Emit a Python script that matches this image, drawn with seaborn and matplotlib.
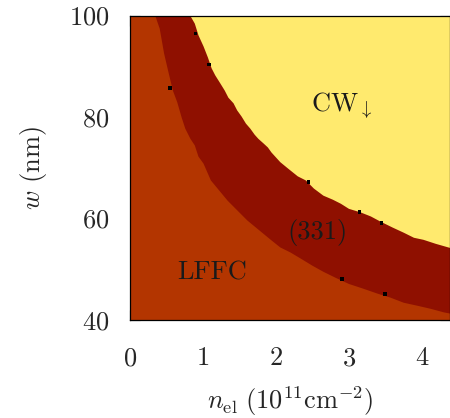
"""
Phase diagram w vs n_el: LFFC / (331) / CW_down regions.
"""

import numpy as np
import matplotlib
matplotlib.use('Agg')
import matplotlib.pyplot as plt
import seaborn as sns

# Boundary LFFC | (331) (n_el, w)
low_n = [0.0, 0.34, 0.40, 0.46, 0.52, 0.58, 0.64, 0.70, 0.75, 0.82, 0.88,
         0.93, 1.00, 1.10, 1.33, 1.60, 1.92, 2.05, 2.19, 2.33, 2.49, 2.64,
         2.81, 2.99, 3.18, 3.38, 3.56, 3.74, 3.93, 4.11, 4.29, 4.40]
low_w = [100.0, 100.0, 97.5, 92.6, 88.9, 85.3, 83.0, 80.0, 77.8, 75.8, 74.5,
         72.3, 70.9, 67.6, 63.6, 59.7, 55.9, 54.4, 53.4, 52.2, 50.8, 49.6,
         48.4, 47.2, 46.3, 45.3, 44.5, 43.5, 42.9, 42.3, 41.6, 41.3]

# Boundary (331) | CW_down
up_n = [0.0, 0.82, 0.88, 0.93, 1.00, 1.06, 1.11, 1.16, 1.23, 1.29, 1.34,
        1.41, 1.46, 1.52, 1.58, 1.64, 1.70, 1.75, 1.82, 1.88, 1.93, 2.05,
        2.16, 2.29, 2.40, 2.51, 2.64, 2.77, 2.88, 2.99, 3.15, 3.29, 3.42,
        3.59, 3.74, 3.88, 4.01, 4.18, 4.35, 4.40]
up_w = [100.0, 100.0, 98.5, 96.2, 94.0, 91.8, 89.7, 88.3, 86.7, 85.3, 83.9,
        82.8, 81.4, 80.2, 78.8, 77.8, 76.6, 75.8, 74.9, 74.1, 73.1, 71.2,
        69.9, 68.4, 67.6, 66.0, 64.6, 63.8, 63.0, 62.0, 61.3, 60.5, 59.5,
        58.3, 57.3, 56.3, 55.9, 55.1, 54.4, 54.2]

# Computed points sitting on the boundaries (small black squares)
dot_n = [0.90, 1.08, 0.55, 2.44, 3.14, 3.44, 2.90, 3.49]
dot_w = [96.4, 90.3, 85.7, 67.2, 61.3, 59.1, 48.1, 45.1]

region_names = ['LFFC', '(331)', r'CW$_{\downarrow}$']
region_n = [1.12, 2.56, 2.90]
region_w = [49.4, 57.3, 82.4]

COLORS = {'LFFC': '#B33500', '331': '#8F1000', 'CW': '#FFEA6E'}

sns.set_theme(style='ticks')
plt.rcParams['font.family'] = ['serif']
plt.rcParams['font.serif'] = ['cmr10', 'DejaVu Serif']
plt.rcParams['mathtext.fontset'] = 'cm'
plt.rcParams['axes.formatter.use_mathtext'] = True
plt.rcParams['axes.unicode_minus'] = False

fig = plt.figure(figsize=(4.5, 4.18), dpi=100)
ax = fig.add_axes([130 / 450, 1 - 320 / 418, 320 / 450, (320 - 15.5) / 418])

xmin, xmax, ymin, ymax = 0.0, 4.38, 40, 100
ax.fill_between([xmin, 4.4], ymin, ymax, color=COLORS['CW'], lw=0)
ax.fill_between(up_n, ymin, up_w, color=COLORS['331'], lw=0)
ax.fill_between(low_n, ymin, low_w, color=COLORS['LFFC'], lw=0)

sns.scatterplot(x=dot_n, y=dot_w, marker='s', s=6, color='black',
                edgecolor='none', ax=ax, zorder=3)

for name, xn, yw in zip(region_names, region_n, region_w):
    ax.text(xn, yw, name, ha='center', va='center', fontsize=19,
            color='#1a1a1a')

ax.set_xlim(xmin, xmax)
ax.set_ylim(ymin, ymax)
ax.set_xticks([0, 1, 2, 3, 4])
ax.set_xticks([0.5, 1.5, 2.5, 3.5], minor=True)
ax.set_yticks([40, 60, 80, 100])
ax.set_yticks([50, 70, 90], minor=True)

ax.tick_params(which='both', direction='in', top=True, right=True,
               width=0.8, color='black')
ax.tick_params(which='major', length=7)
ax.tick_params(which='minor', length=3.5)
ax.tick_params(axis='x', which='major', labelsize=19, pad=19)
ax.tick_params(axis='y', which='major', labelsize=19, pad=15)

for sp in ax.spines.values():
    sp.set_linewidth(0.9)
    sp.set_color('black')

ax.set_xlabel(r'$n_{\rm el}\ (10^{11}{\rm cm}^{-2})$', fontsize=19, labelpad=10)
ax.set_ylabel(r'$w$ (nm)', fontsize=19, labelpad=14)

fig.savefig('out.png', dpi=100)
